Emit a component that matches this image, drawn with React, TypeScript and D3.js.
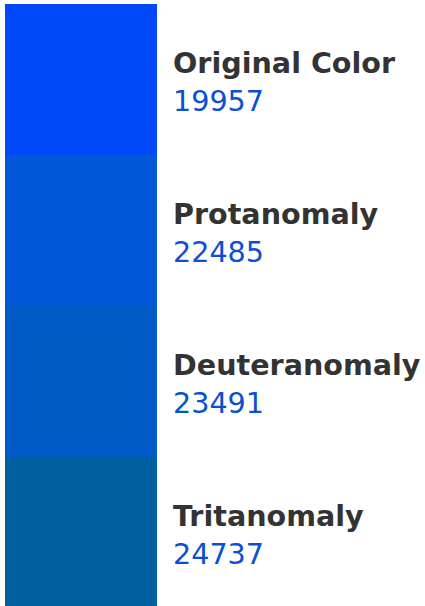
import React from "react";
import * as d3 from "d3";

const categories = ["Original Color", "Protanomaly", "Deuteranomaly", "Tritanomaly"];
const values = [19957, 22485, 23491, 24737];
const colors = ["#0048f8", "#0057d8", "#005bc6", "#005f9f"];

const W = 425;
const H = 606;

export default function App() {
  const y = d3.scaleBand<string>().domain(categories).range([4, 4 + 151 * categories.length]).padding(0);
  return (
    <svg width={W} height={H} style={{ position: "absolute", left: 0, top: 0 }}>
      <rect x={0} y={0} width={W} height={H} fill="#ffffff" />
      {categories.map((c, i) => {
        const y0 = y(c)!;
        return (
          <g key={c}>
            <rect x={5} y={y0} width={152} height={y.bandwidth()} fill={colors[i]} />
            <text
              x={173}
              y={y0 + 69}
              fontFamily="DejaVu Sans"
              fontWeight="bold"
              fontSize={28.6}
              fill="#333333"
            >
              {c}
            </text>
            <text x={173} y={y0 + 107} fontFamily="DejaVu Sans" fontSize={28.6} fill="#0a50d2">
              {d3.format("d")(values[i])}
            </text>
          </g>
        );
      })}
    </svg>
  );
}
